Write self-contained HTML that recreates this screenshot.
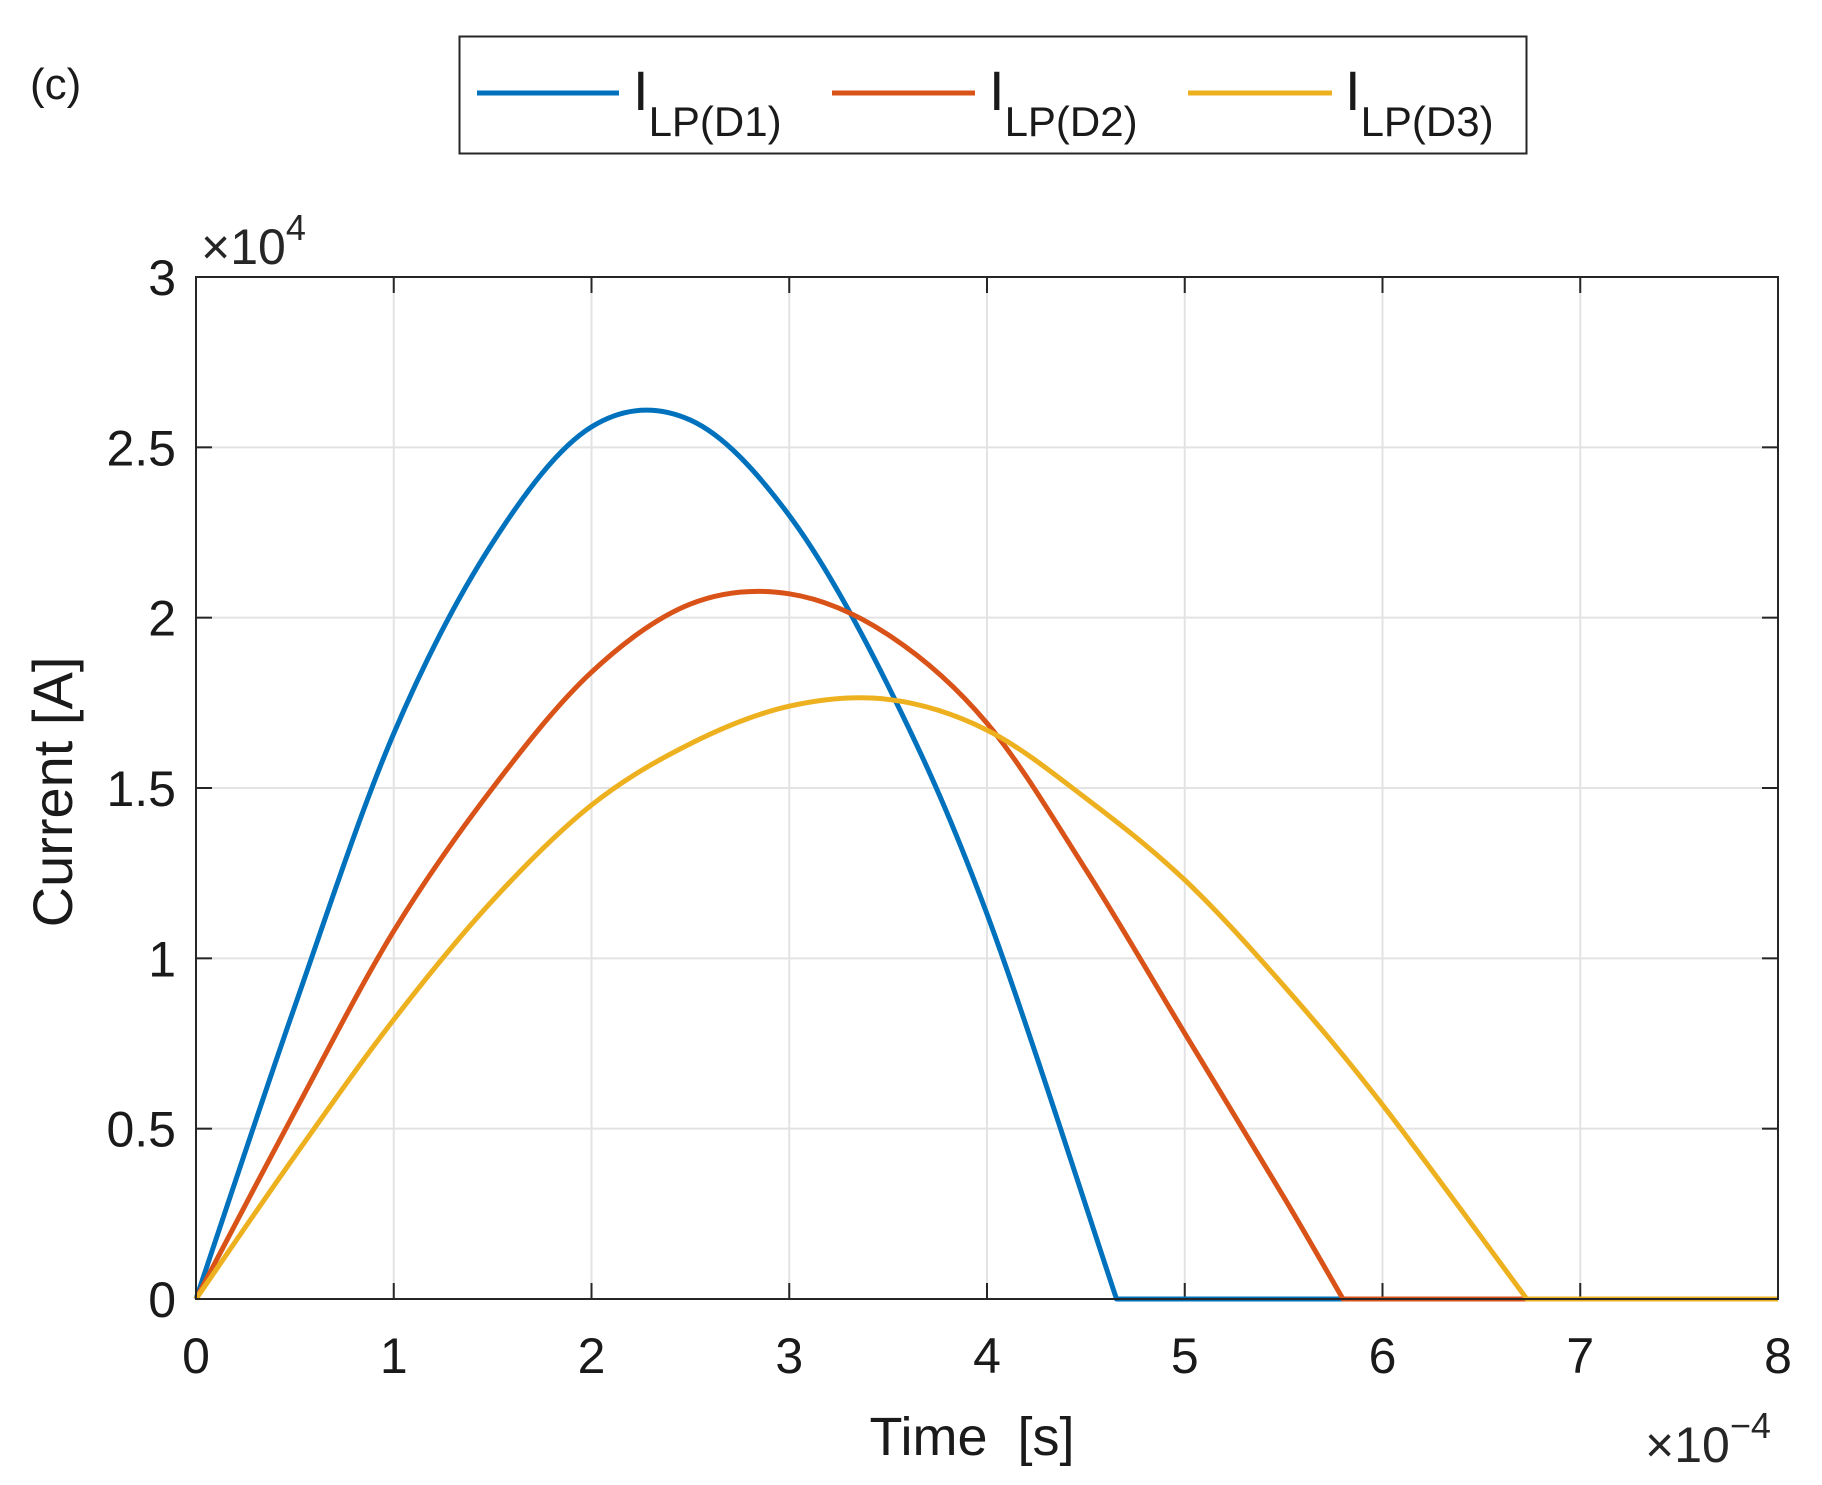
<!DOCTYPE html>
<html><head><meta charset="utf-8"><style>
html,body{margin:0;padding:0;background:#fff;}
svg{display:block;font-family:"Liberation Sans",Arial,sans-serif;}
</style></head><body>
<svg id="chart" width="1822" height="1485" viewBox="0 0 1822 1485" xmlns="http://www.w3.org/2000/svg">
<text x="30" y="99" font-size="44" fill="#1a1a1a">(c)</text>
<g>
<rect x="459.5" y="36.5" width="1067" height="117" fill="#fff" stroke="#262626" stroke-width="2"/>
<g>
<line x1="477" y1="93" x2="619" y2="93" stroke="#0072BD" stroke-width="5"/>
<text x="633" y="110" font-size="56" fill="#1a1a1a">I<tspan font-size="42" dy="26">LP(D1)</tspan></text></g>
<g>
<line x1="832" y1="93" x2="975" y2="93" stroke="#D95319" stroke-width="5"/>
<text x="989" y="110" font-size="56" fill="#1a1a1a">I<tspan font-size="42" dy="26">LP(D2)</tspan></text></g>
<g>
<line x1="1188" y1="93" x2="1332" y2="93" stroke="#EDB120" stroke-width="5"/>
<text x="1345" y="110" font-size="56" fill="#1a1a1a">I<tspan font-size="42" dy="26">LP(D3)</tspan></text></g>
</g>
<g id="grid"></g>
<g id="ticks"></g>
<g id="series"></g>
<rect x="196" y="277" width="1582" height="1022" fill="none" stroke="#262626" stroke-width="2"/>
<text x="201" y="264" font-size="50" fill="#262626">×10<tspan font-size="36" dy="-24">4</tspan></text>
<text x="1645" y="1462" font-size="50" fill="#262626">×10<tspan font-size="36" dy="-24">−4</tspan></text>
<text x="972" y="1455" font-size="54" text-anchor="middle" fill="#1a1a1a" xml:space="preserve">Time  [s]</text>
<text transform="translate(72,792) rotate(-90)" font-size="56" text-anchor="middle" fill="#1a1a1a">Current [A]</text>
</svg>
<script>
const xTicks=[0,1,2,3,4,5,6,7,8];
const yTicks=[0,0.5,1,1.5,2,2.5,3];
const yTickLabels=["0","0.5","1","1.5","2","2.5","3"];
const tD1=[0,0.5,1,1.5,2,2.5,3,3.5,4,4.655];
const iD1=[0,0.86,1.66,2.22,2.56,2.58,2.3,1.8,1.13,0];
const tD2=[0,0.5,1,1.5,2,2.5,3,3.5,4,4.5,5,5.5,5.8];
const iD2=[0,0.55,1.08,1.5,1.84,2.04,2.07,1.95,1.69,1.26,0.78,0.3,0];
const tD3=[0,0.5,1,1.5,2,2.5,3,3.5,4,4.5,5,5.5,6,6.73];
const iD3=[0,0.42,0.82,1.17,1.45,1.63,1.74,1.76,1.67,1.47,1.23,0.92,0.57,0];
const tEnd=8;
const X0=196,X1=1778,Y0=1299,Y1=277;
const sx=v=>X0+(v/8)*(X1-X0);
const sy=v=>Y0-(v/3)*(Y0-Y1);
const NS="http://www.w3.org/2000/svg";
const grid=document.getElementById('grid'),ticks=document.getElementById('ticks'),series=document.getElementById('series');
function mk(tag,attrs,parent){const e=document.createElementNS(NS,tag);for(const k in attrs)e.setAttribute(k,attrs[k]);parent.appendChild(e);return e;}
xTicks.forEach(v=>{
 const x=sx(v);
 if(v>0&&v<8){const g=mk('line',{x1:x,y1:Y1,x2:x,y2:Y0,stroke:'#e3e3e3','stroke-width':2},grid);
 
 }
 mk('line',{x1:x,y1:Y0,x2:x,y2:Y0-16,stroke:'#262626','stroke-width':2},ticks);
 mk('line',{x1:x,y1:Y1,x2:x,y2:Y1+16,stroke:'#262626','stroke-width':2},ticks);
 const t=mk('text',{x:x,y:1373,'font-size':50,'text-anchor':'middle',fill:'#1a1a1a'},ticks);
 
 
 t.textContent=String(v);
});
yTicks.forEach((v,i)=>{
 const y=sy(v);
 if(v>0&&v<3){const g=mk('line',{x1:X0,y1:y,x2:X1,y2:y,stroke:'#e3e3e3','stroke-width':2},grid);
 
 }
 mk('line',{x1:X0,y1:y,x2:X0+16,y2:y,stroke:'#262626','stroke-width':2},ticks);
 mk('line',{x1:X1,y1:y,x2:X1-16,y2:y,stroke:'#262626','stroke-width':2},ticks);
 const t=mk('text',{x:176,y:y+18,'font-size':50,'text-anchor':'end',fill:'#1a1a1a'},ticks);
 
 
 t.textContent=yTickLabels[i];
});
function curve(ts,is,color,name){
 const p=ts.map((t,i)=>[sx(t),sy(is[i])]);
 const n=p.length;
 let d='M'+p[0][0]+','+p[0][1];
 for(let i=0;i<n-1;i++){
  const p0=p[Math.max(0,i-1)],p1=p[i],p2=p[i+1],p3=p[Math.min(n-1,i+2)];
  const k=1/6;
  const c1=[p1[0]+(p2[0]-p0[0])*k,p1[1]+(p2[1]-p0[1])*k];
  const c2=[p2[0]-(p3[0]-p1[0])*k,p2[1]-(p3[1]-p1[1])*k];
  d+=' C'+c1+' '+c2+' '+p2;
 }
 d+=' L'+sx(tEnd)+','+sy(0);
 const e=mk('path',{d:d,fill:'none',stroke:color,'stroke-width':5,'stroke-linejoin':'round'},series);
 
 
}
curve(tD1,iD1,'#0072BD','series-d1');
curve(tD2,iD2,'#D95319','series-d2');
curve(tD3,iD3,'#EDB120','series-d3');
</script>
</body></html>
